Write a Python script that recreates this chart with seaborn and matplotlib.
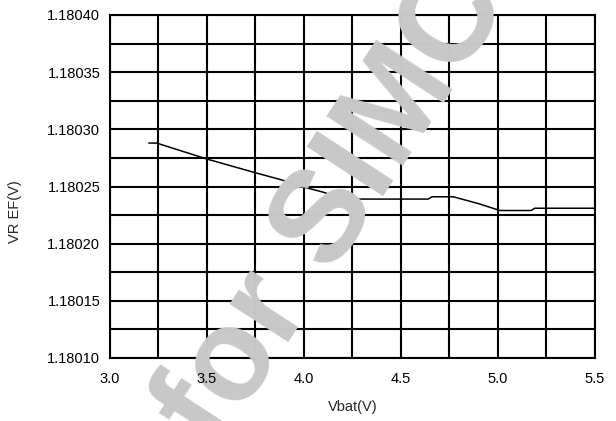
import numpy as np
import pandas as pd
import matplotlib
matplotlib.use("Agg")
import matplotlib.pyplot as plt
import seaborn as sns
from matplotlib.ticker import MultipleLocator, FormatStrFormatter

# Curve
vbat = [3.20, 3.24, 3.50, 3.75, 3.88, 4.01, 4.10, 4.20, 4.64, 4.66, 4.77, 4.90, 5.01, 5.17, 5.19, 5.50]
vref = [1.180288, 1.180288, 1.180274, 1.180262, 1.180256, 1.180249, 1.180245, 1.180239,
        1.180239, 1.180241, 1.180241, 1.180235, 1.180229, 1.180229, 1.180231, 1.180231]

df = pd.DataFrame({"Vbat(V)": vbat, "VR EF(V)": vref})

sns.set_style("white")
plt.rcParams["font.family"] = ["Liberation Sans", "DejaVu Sans"]

fig = plt.figure(figsize=(6.16, 4.21), dpi=100)
pos = [110 / 616, 1 - 358 / 421, 485 / 616, 343 / 421]
ax = fig.add_axes(pos)

sns.lineplot(data=df, x="Vbat(V)", y="VR EF(V)", color="black", linewidth=1.1, ax=ax)


def setup(a):
    a.set_xlim(3.0, 5.5)
    a.set_ylim(1.18010, 1.18040)
    a.xaxis.set_major_locator(MultipleLocator(0.5))
    a.xaxis.set_minor_locator(MultipleLocator(0.25))
    a.yaxis.set_major_locator(MultipleLocator(0.00005))
    a.yaxis.set_minor_locator(MultipleLocator(0.000025))
    a.xaxis.set_major_formatter(FormatStrFormatter("%.1f"))
    a.yaxis.set_major_formatter(FormatStrFormatter("%.5f"))
    a.tick_params(which="both", length=0, labelsize=10.5, colors="black")
    a.tick_params(axis="x", pad=10)
    a.tick_params(axis="y", pad=7)


setup(ax)
ax.grid(which="both", color="black", linewidth=1.5)
ax.tick_params(labelbottom=False, labelleft=False)
ax.set_xlabel("")
ax.set_ylabel("")
for s in ax.spines.values():
    s.set_color("black")
    s.set_linewidth(1.5)

# watermark sits over the grid and the curve
fig.text(362 / 616, 1 - 166 / 421, "for SIMCO", fontsize=94, fontweight="bold",
         color="#c8c8c8", rotation=57, ha="center", va="center", zorder=10)

# tick labels and axis titles drawn above the watermark
ax2 = fig.add_axes(pos)
ax2.set_zorder(20)
ax2.patch.set_visible(False)
for s in ax2.spines.values():
    s.set_visible(False)
setup(ax2)
ax2.grid(False)
ax2.set_xlabel("Vbat(V)", fontsize=10.5, labelpad=10)
ax2.set_ylabel("VR EF(V)", fontsize=10.5)
ax2.yaxis.set_label_coords(-0.181, 0.426)

fig.savefig("out.png", dpi=100)
